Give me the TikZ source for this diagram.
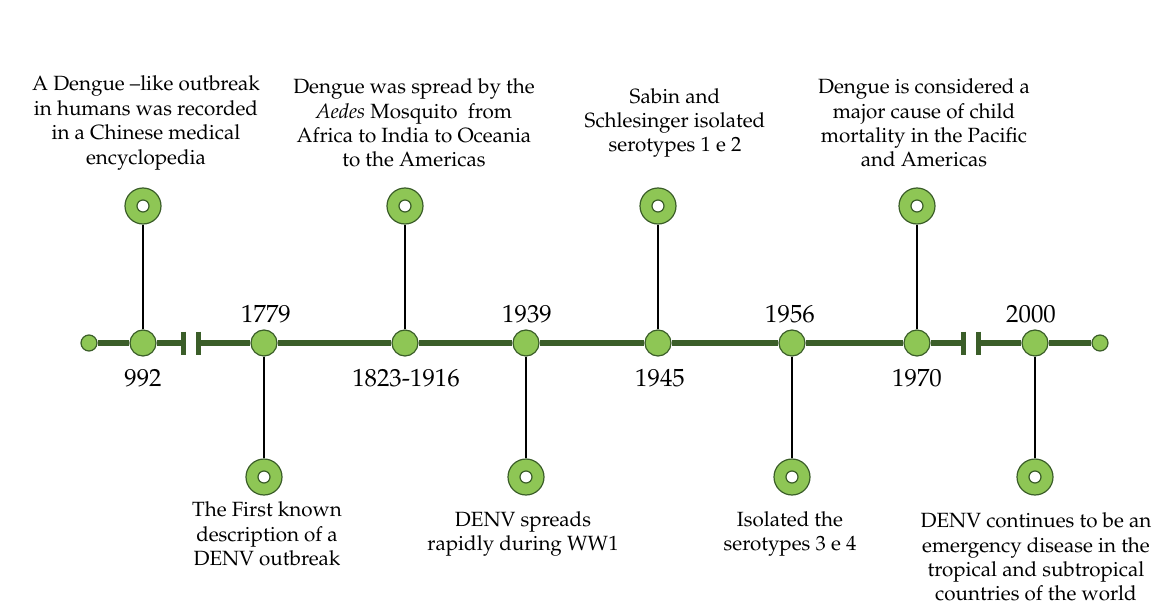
\documentclass[tikz,border=0pt]{standalone}
\usepackage[T1]{fontenc}
\usepackage{mathpazo}
\usepackage{tikz}

\definecolor{darkgreen}{HTML}{3B5E29}
\definecolor{leafgreen}{HTML}{8EC655}

\begin{document}
\begin{tikzpicture}[x=0.5pt, y=-0.5pt,
        event/.style={circle, draw=darkgreen, fill=leafgreen, line width=0.6pt, minimum size=13pt, inner sep=0pt},
        tip/.style={event, minimum size=8pt},
        ring/.style={event, minimum size=18pt,
            path picture={\draw[darkgreen, line width=0.6pt, fill=white] (path picture bounding box.center) circle (3pt);}},
        stem/.style={draw=black, line width=1pt},
        axis/.style={draw=darkgreen, line width=3pt},
        brk/.style={draw=darkgreen, line width=2.5pt},
        year/.style={font=\fontsize{12.4}{14}\selectfont},
        note/.style={align=center, font=\fontsize{10.3}{12.2}\selectfont}
    ]
        \useasboundingbox (0,0) rectangle (1164,605);

        \node[tip] (start) at (89,343) {};
        \node[tip] (stop) at (1100,343) {};
        \coordinate (gapA) at (183,343);
        \coordinate (gapB) at (198,343);
        \coordinate (gapC) at (963,343);
        \coordinate (gapD) at (978,343);

        \node[event] (e992) at (143,343) {};
        \node[event] (e1779) at (264,343) {};
        \node[event] (e1823) at (405,343) {};
        \node[event] (e1939) at (526,343) {};
        \node[event] (e1945) at (658,343) {};
        \node[event] (e1956) at (792,343) {};
        \node[event] (e1970) at (917,343) {};
        \node[event] (e2000) at (1035,343) {};

        \node[ring] (r992) at (143,206) {};
        \node[ring] (r1779) at (264,477) {};
        \node[ring] (r1823) at (405,206) {};
        \node[ring] (r1939) at (526,477) {};
        \node[ring] (r1945) at (658,206) {};
        \node[ring] (r1956) at (792,477) {};
        \node[ring] (r1970) at (917,206) {};
        \node[ring] (r2000) at (1035,477) {};

        \draw[axis] (start) -- (e992) -- (gapA);
        \draw[axis] (gapB) -- (e1779) -- (e1823) -- (e1939) -- (e1945) -- (e1956) -- (e1970) -- (gapC);
        \draw[axis] (gapD) -- (e2000) -- (stop);
        \draw[brk] (gapA) ++(0,-11.5) -- ++(0,23);
        \draw[brk] (gapB) ++(0,-11.5) -- ++(0,23);
        \draw[brk] (gapC) ++(0,-11.5) -- ++(0,23);
        \draw[brk] (gapD) ++(0,-11.5) -- ++(0,23);

        \draw[stem] (e992) -- (r992);
        \draw[stem] (e1779) -- (r1779);
        \draw[stem] (e1823) -- (r1823);
        \draw[stem] (e1939) -- (r1939);
        \draw[stem] (e1945) -- (r1945);
        \draw[stem] (e1956) -- (r1956);
        \draw[stem] (e1970) -- (r1970);
        \draw[stem] (e2000) -- (r2000);

        \node[year] (y992) at (143,378) {992};
        \node[year] (y1779) at (266,314) {1779};
        \node[year] (y1823) at (406,378) {1823-1916};
        \node[year] (y1939) at (527,314) {1939};
        \node[year] (y1945) at (660,378) {1945};
        \node[year] (y1956) at (790,314) {1956};
        \node[year] (y1970) at (917,378) {1970};
        \node[year] (y2000) at (1031,314) {2000};

        \node[note] (n992) at (146,123) {A Dengue --like outbreak\\in humans was recorded\\in a Chinese medical\\encyclopedia};
        \node[note] (n1823) at (414,123) {Dengue was spread by the\\\textit{Aedes} Mosquito\ \ from\\Africa to India to Oceania\\to the Americas};
        \node[note] (n1945) at (675,123) {Sabin and\\Schlesinger isolated\\serotypes 1 e 2};
        \node[note] (n1970) at (924,123) {Dengue is considered a\\major cause of child\\mortality in the Pacific\\and Americas};
        \node[note] (n1779) at (267,534) {The First known\\description of a\\DENV outbreak};
        \node[note] (n1939) at (523,534) {DENV spreads\\rapidly during WW1};
        \node[note] (n1956) at (790,534) {Isolated the\\serotypes 3 e 4};
        \node[note] (n2000) at (1036,557) {DENV continues to be an\\emergency disease in the\\tropical and subtropical\\countries of the world};
    \end{tikzpicture}
\end{document}
